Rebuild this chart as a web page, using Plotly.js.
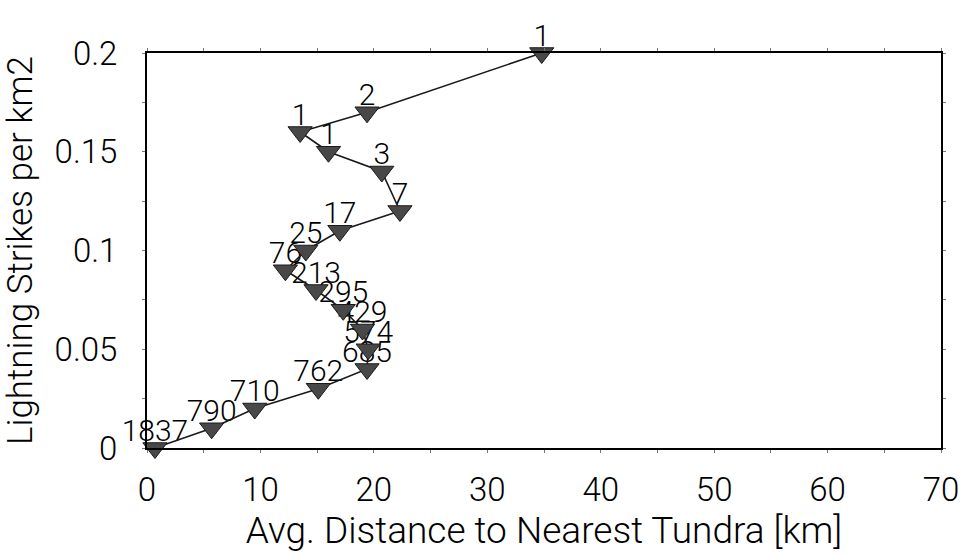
<!DOCTYPE html>
<html>
<head>
<meta charset="utf-8">
<script src="https://cdn.plot.ly/plotly-3.0.1.min.js"></script>
<style>html,body{margin:0;padding:0;background:#fff;}#chart{width:964px;height:555px;}</style>
</head>
<body>
<div id="chart"></div>
<script>
// Avg. distance to nearest tundra (km) for each strike-density bin
var distanceKm = [34.8, 19.4, 13.5, 16.0, 20.7, 22.3, 17.0, 14.0, 12.2, 14.9, 17.3, 19.0, 19.5, 19.4, 15.1, 9.5, 5.7, 0.7];
// Lightning strikes per km2
var strikesPerKm2 = [0.20, 0.17, 0.16, 0.15, 0.14, 0.12, 0.11, 0.10, 0.09, 0.08, 0.07, 0.06, 0.05, 0.04, 0.03, 0.02, 0.01, 0.00];
// Point labels (counts)
var pointLabels = ["1", "2", "1", "1", "3", "7", "17", "25", "76", "213", "295", "429", "574", "685", "762", "710", "790", "1837"];
var xTickVals = [0, 10, 20, 30, 40, 50, 60, 70];
var yTickVals = [0, 0.05, 0.1, 0.15, 0.2];

var FONT = 'Roboto, "DejaVu Sans", Arial, sans-serif';

var labelTrace = {
  x: distanceKm, y: strikesPerKm2, text: pointLabels,
  mode: 'text', textposition: 'top center',
  textfont: {family: FONT, size: 30, color: '#000', weight: 300},
  cliponaxis: false, hoverinfo: 'skip', showlegend: false
};
var lineTrace = {
  x: distanceKm, y: strikesPerKm2,
  mode: 'lines+markers',
  line: {color: '#1a1a1a', width: 1.6},
  marker: {symbol: 'triangle-down', size: 21, color: '#484848', line: {color: '#1a1a1a', width: 1}},
  cliponaxis: false, showlegend: false
};

var layout = {
  width: 964, height: 555,
  margin: {l: 147, r: 23, t: 53, b: 107},
  paper_bgcolor: '#fff', plot_bgcolor: '#fff',
  font: {family: FONT, color: '#000', weight: 300},
  xaxis: {
    range: [0, 70], tickvals: xTickVals, showgrid: false, zeroline: false,
    showline: true, linecolor: '#000', linewidth: 2, mirror: 'ticks',
    ticks: 'outside', ticklen: 3, tickcolor: '#777', tickwidth: 1,
    minor: {dtick: 5, tick0: 0, ticks: 'outside', ticklen: 3, tickcolor: '#777', showgrid: false},
    tickfont: {family: FONT, size: 33, color: '#000', weight: 300},
    ticklabelstandoff: 8,
    title: {text: 'Avg. Distance to Nearest Tundra [km]', font: {family: FONT, size: 37, color: '#000', weight: 300}, standoff: 0}
  },
  yaxis: {
    range: [0, 0.2], tickvals: yTickVals, showgrid: false, zeroline: false,
    showline: true, linecolor: '#000', linewidth: 2, mirror: 'ticks',
    ticks: 'outside', ticklen: 3, tickcolor: '#777', tickwidth: 1,
    minor: {dtick: 0.025, tick0: 0, ticks: 'outside', ticklen: 3, tickcolor: '#777', showgrid: false},
    tickfont: {family: FONT, size: 33, color: '#000', weight: 300},
    ticklabelstandoff: 18,
    title: {text: 'Lightning Strikes per km2', font: {family: FONT, size: 35, color: '#000', weight: 300}, standoff: 14}
  }
};

Plotly.newPlot('chart', [labelTrace, lineTrace], layout, {displayModeBar: false, staticPlot: true});
</script>
</body>
</html>
